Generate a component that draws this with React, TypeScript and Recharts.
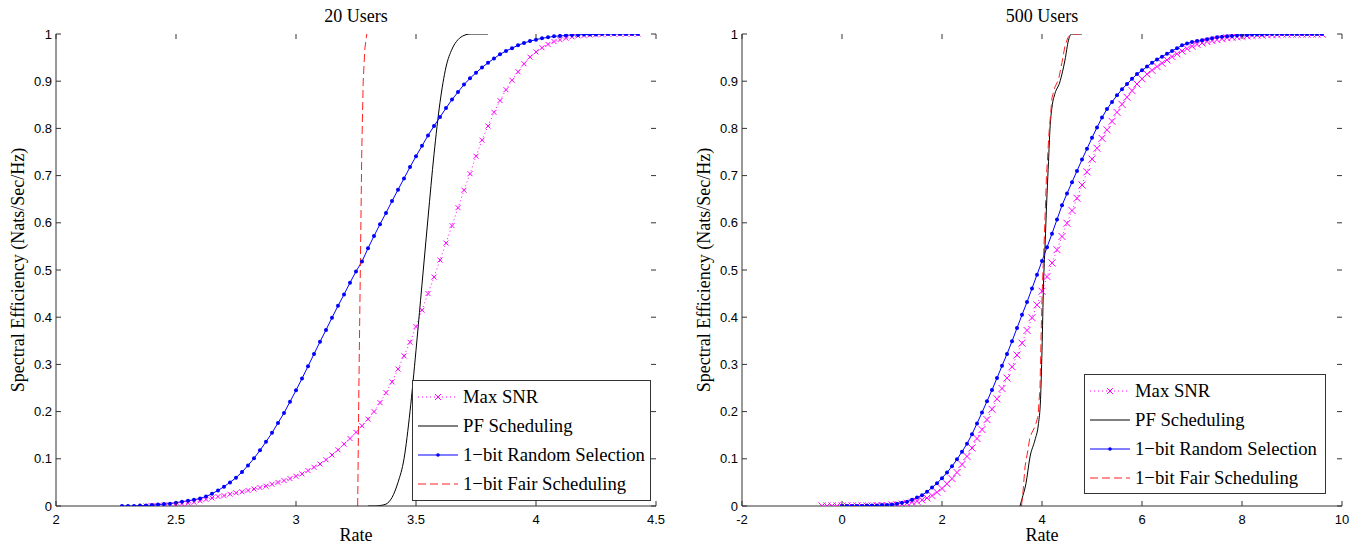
import React from "react";
import { LineChart, Line, XAxis, YAxis } from "recharts";

// Rate grids and CDF values
const leftRateGrid = [
  2.275, 2.3, 2.325, 2.35, 2.375, 2.4, 2.425, 2.45, 2.475, 2.5,
  2.525, 2.55, 2.575, 2.6, 2.625, 2.65, 2.675, 2.7, 2.725, 2.75,
  2.775, 2.8, 2.825, 2.85, 2.875, 2.9, 2.925, 2.95, 2.975, 3,
  3.025, 3.05, 3.075, 3.1, 3.125, 3.15, 3.175, 3.2, 3.225, 3.25,
  3.275, 3.3, 3.325, 3.35, 3.375, 3.4, 3.425, 3.45, 3.475, 3.5,
  3.525, 3.55, 3.575, 3.6, 3.625, 3.65, 3.675, 3.7, 3.725, 3.75,
  3.775, 3.8, 3.825, 3.85, 3.875, 3.9, 3.925, 3.95, 3.975, 4,
  4.025, 4.05, 4.075, 4.1, 4.125, 4.15, 4.175, 4.2, 4.225, 4.25,
  4.275, 4.3, 4.325, 4.35, 4.375, 4.4, 4.425,
];
const leftMaxSnr = [
  null, null, null, null, 0, 0.001, 0.001, 0.002, 0.002, 0.003,
  0.005, 0.006, 0.008, 0.011, 0.014, 0.017, 0.02, 0.022, 0.025, 0.028,
  0.03, 0.033, 0.036, 0.039, 0.042, 0.046, 0.05, 0.054, 0.058, 0.063,
  0.068, 0.075, 0.082, 0.089, 0.098, 0.108, 0.119, 0.131, 0.143, 0.156,
  0.17, 0.184, 0.2, 0.219, 0.24, 0.263, 0.29, 0.318, 0.347, 0.38,
  0.415, 0.45, 0.485, 0.521, 0.557, 0.594, 0.632, 0.669, 0.704, 0.741,
  0.775, 0.805, 0.834, 0.859, 0.882, 0.902, 0.92, 0.937, 0.951, 0.962,
  0.971, 0.978, 0.984, 0.988, 0.991, 0.994, 0.996, 0.997, 0.998, 0.999,
  0.999, 1, 1, 1, 1, 1, 1,
];
const leftRandom = [
  0, 0, 0, 0.001, 0.001, 0.002, 0.003, 0.004, 0.005, 0.007,
  0.009, 0.011, 0.013, 0.016, 0.02, 0.026, 0.033, 0.041, 0.05, 0.06,
  0.072, 0.086, 0.101, 0.118, 0.136, 0.155, 0.176, 0.197, 0.221, 0.245,
  0.27, 0.296, 0.322, 0.348, 0.373, 0.399, 0.424, 0.448, 0.473, 0.497,
  0.518, 0.546, 0.572, 0.597, 0.621, 0.646, 0.67, 0.694, 0.718, 0.741,
  0.763, 0.785, 0.805, 0.824, 0.843, 0.861, 0.877, 0.893, 0.906, 0.918,
  0.929, 0.939, 0.948, 0.957, 0.964, 0.97, 0.976, 0.981, 0.985, 0.988,
  0.991, 0.993, 0.995, 0.996, 0.997, 0.998, 0.998, 0.999, 0.999, 0.999,
  1, 1, 1, 1, 1, 1, 1,
];
const leftPfRate = [3.3, 3.325, 3.35, 3.375, 3.4, 3.425, 3.45, 3.475, 3.5, 3.525, 3.55, 3.575, 3.6, 3.625, 3.65, 3.675, 3.7, 3.725, 3.8];
const leftPfCdf = [0, 0, 0.001, 0.004, 0.018, 0.05, 0.1, 0.2, 0.33, 0.47, 0.61, 0.745, 0.855, 0.93, 0.968, 0.988, 0.997, 1, 1];
const leftFairRate = [3.257, 3.262, 3.268, 3.274, 3.28, 3.287, 3.295];
const leftFairCdf = [0, 0.25, 0.5, 0.75, 0.9, 0.97, 1];

const rightRateGrid = [
  -0.4, -0.3, -0.2, -0.1, 0, 0.1, 0.2, 0.3, 0.4, 0.5,
  0.6, 0.7, 0.8, 0.9, 1, 1.1, 1.2, 1.3, 1.4, 1.5,
  1.6, 1.7, 1.8, 1.9, 2, 2.1, 2.2, 2.3, 2.4, 2.5,
  2.6, 2.7, 2.8, 2.9, 3, 3.1, 3.2, 3.3, 3.4, 3.5,
  3.6, 3.7, 3.8, 3.9, 4, 4.1, 4.2, 4.3, 4.4, 4.5,
  4.6, 4.7, 4.8, 4.9, 5, 5.1, 5.2, 5.3, 5.4, 5.5,
  5.6, 5.7, 5.8, 5.9, 6, 6.1, 6.2, 6.3, 6.4, 6.5,
  6.6, 6.7, 6.8, 6.9, 7, 7.1, 7.2, 7.3, 7.4, 7.5,
  7.6, 7.7, 7.8, 7.9, 8, 8.1, 8.2, 8.3, 8.4, 8.5,
  8.6, 8.7, 8.8, 8.9, 9, 9.1, 9.2, 9.3, 9.4, 9.5,
  9.6,
];
const rightMaxSnr = [
  0, 0, 0, 0, 0, 0, 0, 0, 0, 0,
  0, 0.001, 0.001, 0.001, 0.002, 0.003, 0.004, 0.006, 0.008, 0.01,
  0.013, 0.017, 0.022, 0.029, 0.037, 0.047, 0.058, 0.071, 0.088, 0.105,
  0.123, 0.143, 0.162, 0.183, 0.205, 0.227, 0.249, 0.271, 0.295, 0.32,
  0.345, 0.372, 0.399, 0.426, 0.455, 0.486, 0.515, 0.543, 0.571, 0.599,
  0.626, 0.652, 0.68, 0.708, 0.735, 0.758, 0.779, 0.797, 0.815, 0.834,
  0.851, 0.866, 0.88, 0.894, 0.905, 0.915, 0.923, 0.931, 0.938, 0.945,
  0.952, 0.958, 0.964, 0.969, 0.974, 0.978, 0.981, 0.984, 0.986, 0.988,
  0.99, 0.992, 0.993, 0.994, 0.995, 0.996, 0.997, 0.998, 0.998, 0.999,
  0.999, 0.999, 1, 1, 1, 1, 1, 1, 1, 1,
  1,
];
const rightRandom = [
  null, null, null, null, 0, 0, 0, 0, 0, 0.001,
  0.001, 0.001, 0.002, 0.002, 0.003, 0.005, 0.007, 0.009, 0.013, 0.018,
  0.023, 0.03, 0.039, 0.048, 0.059, 0.071, 0.084, 0.099, 0.115, 0.132,
  0.152, 0.175, 0.198, 0.222, 0.246, 0.271, 0.297, 0.322, 0.349, 0.377,
  0.405, 0.432, 0.461, 0.49, 0.519, 0.548, 0.577, 0.607, 0.637, 0.662,
  0.686, 0.71, 0.734, 0.757, 0.78, 0.802, 0.823, 0.841, 0.856, 0.87,
  0.883, 0.894, 0.905, 0.915, 0.923, 0.931, 0.939, 0.946, 0.952, 0.958,
  0.964, 0.97, 0.976, 0.98, 0.983, 0.985, 0.987, 0.989, 0.991, 0.993,
  0.994, 0.995, 0.996, 0.997, 0.998, 0.998, 0.999, 0.999, 0.999, 1,
  1, 1, 1, 1, 1, 1, 1, 1, 1, 1,
  1,
];
const rightPfRate = [3.56, 3.6, 3.68, 3.76, 3.86, 3.93, 3.97, 4.0, 4.03, 4.06, 4.1, 4.13, 4.16, 4.2, 4.26, 4.35, 4.41, 4.46, 4.53, 4.59, 4.8];
const rightPfCdf = [0, 0.015, 0.048, 0.104, 0.14, 0.175, 0.225, 0.33, 0.47, 0.55, 0.66, 0.73, 0.8, 0.845, 0.874, 0.896, 0.92, 0.945, 0.987, 1, 1];
const rightFairRate = [3.59, 3.62, 3.66, 3.72, 3.76, 3.82, 3.86, 3.92, 3.96, 3.98, 4.0, 4.02, 4.05, 4.09, 4.14, 4.2, 4.26, 4.33, 4.4, 4.46, 4.52, 4.6, 4.75];
const rightFairCdf = [0, 0.03, 0.083, 0.12, 0.147, 0.16, 0.168, 0.19, 0.25, 0.35, 0.44, 0.5, 0.58, 0.7, 0.79, 0.865, 0.888, 0.903, 0.94, 0.975, 0.993, 1, 1];

const leftXTicks = [2, 2.5, 3, 3.5, 4, 4.5];
const rightXTicks = [-2, 0, 2, 4, 6, 8, 10];
const yTicks = [0, 0.1, 0.2, 0.3, 0.4, 0.5, 0.6, 0.7, 0.8, 0.9, 1];

const legendItems = [
  { label: "Max SNR", kind: "cross" },
  { label: "PF Scheduling", kind: "solid" },
  { label: "1\u2212bit Random Selection", kind: "dot" },
  { label: "1\u2212bit Fair Scheduling", kind: "dash" },
];

const AXIS = "#333";
const MAGENTA = "#ff00ff";
const BLUE = "#0000ff";
const RED = "#ff2020";
const SERIF = '"Liberation Serif", "Times New Roman", serif';
const SANS = '"Liberation Sans", Arial, sans-serif';
const H = 547;
const PLOT_TOP = 34;

const pairs = (xs: number[], ys: (number | null)[]) => xs.map((rate, i) => ({ rate, cdf: ys[i] }));

const makeXTick = () => (p: any) => (
  <g>
    <line x1={p.x} y1={p.y} x2={p.x} y2={p.y - 5} stroke={AXIS} />
    <line x1={p.x} y1={PLOT_TOP} x2={p.x} y2={PLOT_TOP + 5} stroke={AXIS} />
    <text x={p.x} y={p.y + 18} textAnchor="middle" fontFamily={SANS} fontSize={13} fill="#000">
      {p.payload.value}
    </text>
  </g>
);

const makeYTick = (right: number) => (p: any) => (
  <g>
    <line x1={p.x} y1={p.y} x2={p.x + 5} y2={p.y} stroke={AXIS} />
    <line x1={right - 5} y1={p.y} x2={right} y2={p.y} stroke={AXIS} />
    <text x={p.x - 4} y={p.y + 4.5} textAnchor="end" fontFamily={SANS} fontSize={13} fill="#000">
      {p.payload.value}
    </text>
  </g>
);

const crossDot = (s: number) => (p: any) => {
  if (p.cx == null || p.cy == null || p.value == null) return <g key={p.key} />;
  const { cx, cy } = p;
  return (
    <path
      key={p.key}
      d={`M${cx - s},${cy - s}L${cx + s},${cy + s}M${cx - s},${cy + s}L${cx + s},${cy - s}`}
      stroke={MAGENTA}
      strokeWidth={1}
      fill="none"
    />
  );
};

const blueDot = (p: any) => {
  if (p.cx == null || p.cy == null || p.value == null) return <g key={p.key} />;
  return <circle key={p.key} cx={p.cx} cy={p.cy} r={2} fill={BLUE} />;
};

type PanelProps = {
  width: number;
  left: number;
  right: number;
  domain: [number, number];
  xTicks: number[];
  maxSnr: any[];
  random: any[];
  pf: any[];
  fair: any[];
  crossSize: number;
};

function Panel(props: PanelProps) {
  const plotRight = props.width - props.right;
  return (
    <LineChart width={props.width} height={H} margin={{ top: PLOT_TOP, right: props.right, bottom: 21, left: props.left - 30 }}>
      <XAxis
        dataKey="rate"
        type="number"
        domain={props.domain}
        ticks={props.xTicks}
        height={20}
        tickSize={0}
        tickMargin={0}
        tickLine={false}
        axisLine={{ stroke: AXIS }}
        tick={makeXTick()}
        allowDataOverflow
      />
      <XAxis xAxisId="top" orientation="top" type="number" domain={props.domain} height={0} tick={false} tickLine={false} axisLine={{ stroke: AXIS }} />
      <YAxis
        type="number"
        domain={[0, 1]}
        ticks={yTicks}
        width={30}
        tickSize={0}
        tickMargin={0}
        tickLine={false}
        axisLine={{ stroke: AXIS }}
        tick={makeYTick(plotRight)}
        allowDataOverflow
      />
      <YAxis yAxisId="right" orientation="right" type="number" domain={[0, 1]} width={0} tick={false} tickLine={false} axisLine={{ stroke: AXIS }} />
      <Line data={props.maxSnr} dataKey="cdf" stroke={MAGENTA} strokeWidth={1} strokeDasharray="1 3" dot={crossDot(props.crossSize)} isAnimationActive={false} />
      <Line data={props.pf} dataKey="cdf" type="monotone" stroke="#000" strokeWidth={1} dot={false} isAnimationActive={false} />
      <Line data={props.random} dataKey="cdf" stroke={BLUE} strokeWidth={1} dot={blueDot} isAnimationActive={false} />
      <Line data={props.fair} dataKey="cdf" stroke={RED} strokeWidth={1} strokeDasharray="8 4" dot={false} isAnimationActive={false} />
    </LineChart>
  );
}

function LegendBox({ x, y, w, h }: { x: number; y: number; w: number; h: number }) {
  return (
    <g transform={`translate(${x},${y})`}>
      <rect x={0.5} y={0.5} width={w} height={h} fill="#fff" stroke={AXIS} />
      {legendItems.map((it, i) => {
        const ry = 17 + 29 * i;
        return (
          <g key={it.label}>
            {it.kind === "cross" && (
              <g>
                <line x1={6} y1={ry} x2={46} y2={ry} stroke={MAGENTA} strokeDasharray="1 3" />
                <path d={`M23,${ry - 3}L29,${ry + 3}M23,${ry + 3}L29,${ry - 3}`} stroke={MAGENTA} />
              </g>
            )}
            {it.kind === "solid" && <line x1={6} y1={ry} x2={46} y2={ry} stroke="#000" />}
            {it.kind === "dot" && (
              <g>
                <line x1={6} y1={ry} x2={46} y2={ry} stroke={BLUE} />
                <circle cx={26} cy={ry} r={1.8} fill={BLUE} />
              </g>
            )}
            {it.kind === "dash" && <line x1={6} y1={ry} x2={46} y2={ry} stroke={RED} strokeDasharray="8 4" />}
            <text x={51} y={ry + 6} fontFamily={SERIF} fontSize={18.7} fill="#000">
              {it.label}
            </text>
          </g>
        );
      })}
    </g>
  );
}

export default function App() {
  const leftMax = leftRateGrid.map((rate, i) => ({ rate, cdf: leftMaxSnr[i] }));
  const leftRnd = leftRateGrid.map((rate, i) => ({ rate, cdf: leftRandom[i] }));
  const rightMax = rightRateGrid.map((rate, i) => ({ rate, cdf: rightMaxSnr[i] }));
  const rightRnd = rightRateGrid.map((rate, i) => ({ rate, cdf: rightRandom[i] }));
  const yLabel = "Spectral Efficiency (Nats/Sec/Hz)";
  return (
    <div style={{ position: "absolute", left: 0, top: 0, width: 1364, height: H, background: "#fff" }}>
      <div style={{ position: "absolute", left: 0, top: 0 }}>
        <Panel
          width={680}
          left={56}
          right={24}
          domain={[2, 4.5]}
          xTicks={leftXTicks}
          maxSnr={leftMax}
          random={leftRnd}
          pf={pairs(leftPfRate, leftPfCdf)}
          fair={pairs(leftFairRate, leftFairCdf)}
          crossSize={2.5}
        />
      </div>
      <div style={{ position: "absolute", left: 680, top: 0 }}>
        <Panel
          width={684}
          left={62}
          right={22}
          domain={[-2, 10]}
          xTicks={rightXTicks}
          maxSnr={rightMax}
          random={rightRnd}
          pf={pairs(rightPfRate, rightPfCdf)}
          fair={pairs(rightFairRate, rightFairCdf)}
          crossSize={3.5}
        />
      </div>
      <svg width={1364} height={H} style={{ position: "absolute", left: 0, top: 0, pointerEvents: "none" }}>
        <text x={356} y={22} textAnchor="middle" fontFamily={SERIF} fontSize={18}>20 Users</text>
        <text x={1042} y={22} textAnchor="middle" fontFamily={SERIF} fontSize={18}>500 Users</text>
        <text x={356} y={541} textAnchor="middle" fontFamily={SERIF} fontSize={18}>Rate</text>
        <text x={1042} y={541} textAnchor="middle" fontFamily={SERIF} fontSize={18}>Rate</text>
        <text x={24} y={270} textAnchor="middle" fontFamily={SERIF} fontSize={18} transform="rotate(-90 24 270)">{yLabel}</text>
        <text x={710} y={270} textAnchor="middle" fontFamily={SERIF} fontSize={18} transform="rotate(-90 710 270)">{yLabel}</text>
        <LegendBox x={412} y={380} w={238} h={120} />
        <LegendBox x={1084} y={374} w={241} h={119} />
      </svg>
    </div>
  );
}
